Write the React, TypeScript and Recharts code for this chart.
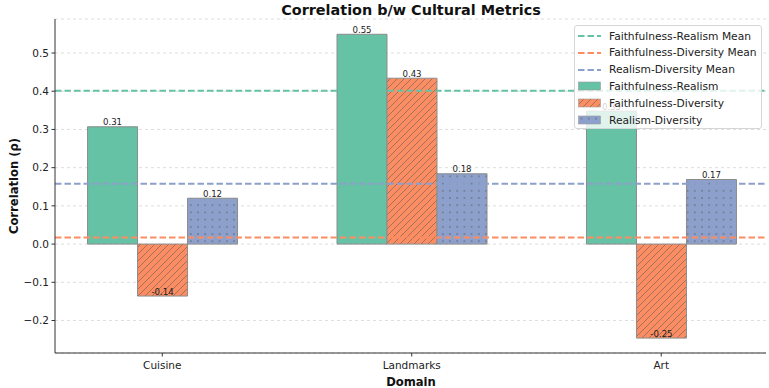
import React from 'react';
import { BarChart, Bar, XAxis, YAxis, CartesianGrid, ReferenceLine, LabelList } from 'recharts';

const domains = ['Cuisine', 'Landmarks', 'Art'];
const faithfulnessRealism = [0.307, 0.549, 0.348];
const faithfulnessDiversity = [-0.136, 0.434, -0.246];
const realismDiversity = [0.12, 0.184, 0.169];
const yTicks = [-0.2, -0.1, 0, 0.1, 0.2, 0.3, 0.4, 0.5];

const GREEN = '#66c2a5';
const ORANGE = '#fc8d62';
const BLUE = '#8da0cb';
const FONT = '"DejaVu Sans", sans-serif';
const DASH = '6.5 3';
const X_DOMAIN = [-0.43, 2.42];

const mean = (a: number[]) => a.reduce((s, v) => s + v, 0) / a.length;

const data = domains.map((d, i) => ({
  x: i,
  domain: d,
  fr: faithfulnessRealism[i],
  fd: faithfulnessDiversity[i],
  rd: realismDiversity[i],
}));

const legendItems = [
  { label: 'Faithfulness-Realism Mean', kind: 'line', color: GREEN },
  { label: 'Faithfulness-Diversity Mean', kind: 'line', color: ORANGE },
  { label: 'Realism-Diversity Mean', kind: 'line', color: BLUE },
  { label: 'Faithfulness-Realism', kind: 'box', color: GREEN },
  { label: 'Faithfulness-Diversity', kind: 'box', color: 'url(#hatch)' },
  { label: 'Realism-Diversity', kind: 'box', color: 'url(#dots)' },
];

const fmtY = (v: number) => {
  const s = Math.abs(v).toFixed(1);
  return v < -1e-9 ? '\u2212' + s : s;
};

// value text sits on the top of a positive bar and just inside the end of a negative one
const ValueLabel = (props: any) => {
  const { x, y, width, height, value } = props;
  const top = Math.min(y, y + height);
  const bottom = Math.max(y, y + height);
  const ty = value >= 0 ? top - 1.5 : bottom - 1.5;
  return (
    <text x={x + width / 2} y={ty} textAnchor="middle" fontSize={8.6} fill="#222" fontFamily={FONT}>
      {Number(value).toFixed(2)}
    </text>
  );
};

function Legend() {
  return (
    <div
      style={{
        position: 'absolute',
        left: 574,
        top: 25,
        width: 188,
        height: 104,
        boxSizing: 'border-box',
        border: '1px solid #d6d6d6',
        borderRadius: 3,
        background: 'rgba(255,255,255,0.8)',
        fontFamily: FONT,
        fontSize: 10.7,
        color: '#222',
      }}
    >
      {legendItems.map((it, i) => (
        <div key={it.label} style={{ position: 'absolute', left: 3, top: 1.5 + i * 16.8, height: 17, display: 'flex', alignItems: 'center' }}>
          <svg width={23} height={10} style={{ marginRight: 8 }}>
            {it.kind === 'line' ? (
              <line x1={0} y1={5} x2={23} y2={5} stroke={it.color} strokeWidth={2} strokeDasharray={DASH} />
            ) : (
              <rect x={0.5} y={1} width={22} height={8} fill={it.color} stroke="#999" strokeWidth={0.6} />
            )}
          </svg>
          <span style={{ whiteSpace: 'nowrap' }}>{it.label}</span>
        </div>
      ))}
    </div>
  );
}

export default function App() {
  return (
    <div style={{ position: 'absolute', left: 0, top: 0, width: 769, height: 388, background: '#fff', fontFamily: FONT }}>
      <BarChart width={769} height={388} data={data} margin={{ top: 19, right: 3, bottom: 0, left: 0 }} barGap={0}>
        <defs>
          <pattern id="hatch" patternUnits="userSpaceOnUse" width={7} height={7}>
            <rect width={7} height={7} fill={ORANGE} />
            <path d="M-1,1 l2,-2 M0,7 l7,-7 M6,8 l2,-2" stroke="#8a6a5a" strokeWidth={0.8} />
          </pattern>
          <pattern id="dots" patternUnits="userSpaceOnUse" width={7.2} height={7.2}>
            <rect width={7.2} height={7.2} fill={BLUE} />
            <circle cx={3.6} cy={3.6} r={0.8} fill="#68707f" />
          </pattern>
        </defs>
        <CartesianGrid vertical={false} stroke="#d4d4d4" strokeDasharray="3 3" strokeWidth={0.8} />
        <XAxis
          dataKey="x"
          type="number"
          domain={X_DOMAIN}
          ticks={[0, 1, 2]}
          tickFormatter={(v: number) => domains[v] ?? ''}
          height={35}
          tickSize={3.5}
          tickMargin={5.5}
          stroke="#333"
          tick={{ fill: '#222', fontSize: 10.5, fontFamily: FONT }}
        />
        <XAxis xAxisId="top" orientation="top" type="number" domain={X_DOMAIN} height={0} tick={false} tickLine={false} stroke="#333" />
        <YAxis
          type="number"
          domain={[-0.285, 0.589]}
          allowDataOverflow
          ticks={yTicks}
          tickFormatter={fmtY}
          width={55}
          tickSize={3.5}
          tickMargin={2.5}
          stroke="#333"
          tick={{ fill: '#222', fontSize: 10.5, fontFamily: FONT }}
        />
        <YAxis yAxisId="right" orientation="right" type="number" domain={[-0.285, 0.589]} width={0} tick={false} tickLine={false} stroke="#333" />
        <Bar dataKey="fr" barSize={50} fill={GREEN} stroke="#8c8c8c" strokeWidth={1} isAnimationActive={false}>
          <LabelList dataKey="fr" content={ValueLabel} />
        </Bar>
        <Bar dataKey="fd" barSize={50} fill="url(#hatch)" stroke="#8c8c8c" strokeWidth={1} isAnimationActive={false}>
          <LabelList dataKey="fd" content={ValueLabel} />
        </Bar>
        <Bar dataKey="rd" barSize={50} fill="url(#dots)" stroke="#8c8c8c" strokeWidth={1} isAnimationActive={false}>
          <LabelList dataKey="rd" content={ValueLabel} />
        </Bar>
        <ReferenceLine y={mean(faithfulnessRealism)} stroke={GREEN} strokeWidth={2} strokeDasharray={DASH} />
        <ReferenceLine y={mean(faithfulnessDiversity)} stroke={ORANGE} strokeWidth={2} strokeDasharray={DASH} />
        <ReferenceLine y={mean(realismDiversity)} stroke={BLUE} strokeWidth={2} strokeDasharray={DASH} />
      </BarChart>
      <svg width={769} height={388} style={{ position: 'absolute', left: 0, top: 0, pointerEvents: 'none' }}>
        <text x={411} y={14.5} textAnchor="middle" fontSize={14.4} fontWeight="bold" fill="#111" fontFamily={FONT}>
          Correlation b/w Cultural Metrics
        </text>
        <text x={411} y={385.5} textAnchor="middle" fontSize={11.6} fontWeight="bold" fill="#111" fontFamily={FONT}>
          Domain
        </text>
        <text x={18.3} y={186} textAnchor="middle" fontSize={11.6} fontWeight="bold" fill="#111" fontFamily={FONT} transform="rotate(-90 18.3 186)">
          Correlation (ρ)
        </text>
      </svg>
      <Legend />
    </div>
  );
}
